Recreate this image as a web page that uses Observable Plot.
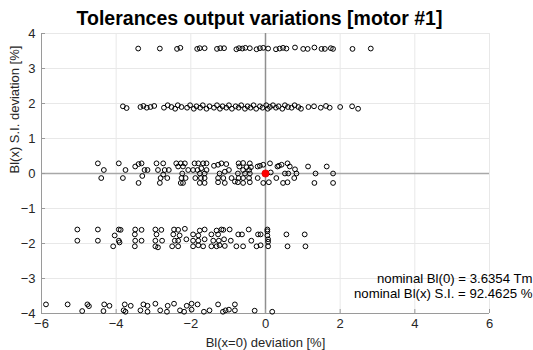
<!DOCTYPE html>
<html>
<head>
<meta charset="utf-8">
<script src="https://cdn.jsdelivr.net/npm/d3@7"></script>
<script src="https://cdn.jsdelivr.net/npm/@observablehq/plot@0.6"></script>
<style>
  html, body { margin: 0; padding: 0; background: #ffffff; }
  #chart { width: 533px; height: 350px; }
</style>
</head>
<body>
<div id="chart"></div>
<script>
// ---- Data ----
const titleText = "Tolerances output variations [motor #1]";
const xLabel = "Bl(x=0) deviation [%]";
const yLabel = "Bl(x) S.I. deviation [%]";
const noteLines = ["nominal Bl(0) = 3.6354 Tm", "nominal Bl(x) S.I. = 92.4625 %"];
const xTicks = [-6, -4, -2, 0, 2, 4, 6];
const yTicks = [-4, -3, -2, -1, 0, 1, 2, 3, 4];
const nominal = [[0, 0]];

// band near +3.5 %
const band1 = [
  [-3.41,3.57],[-2.83,3.57],[-2.37,3.56],[-2.28,3.59],[-1.83,3.56],[-1.76,3.58],[-1.63,3.58],
  [-1.30,3.56],[-1.21,3.58],[-1.11,3.58],[-0.78,3.55],[-0.71,3.58],[-0.62,3.57],[-0.54,3.59],[-0.42,3.58],
  [-0.24,3.55],[-0.15,3.58],[-0.06,3.59],[0.07,3.57],[0.28,3.55],[0.38,3.57],[0.47,3.59],[0.56,3.57],[0.79,3.60],
  [1.01,3.56],[1.13,3.56],[1.31,3.60],[1.50,3.56],[1.59,3.56],[1.75,3.58],[1.81,3.56],[2.33,3.56],[2.82,3.57]
];
// band near +1.9 %
const band2 = [
  [-3.82,1.92],[-3.72,1.87],[-3.35,1.90],[-3.27,1.93],[-3.18,1.88],[-3.08,1.90],[-2.98,1.93],
  [-2.72,1.88],[-2.62,1.95],[-2.52,1.90],[-2.42,1.85],[-2.35,1.95],[-2.25,1.90],
  [-2.10,1.88],[-2.02,1.95],[-1.92,1.85],[-1.85,1.92],[-1.75,1.88],[-1.68,1.95],[-1.58,1.85],[-1.50,1.92],
  [-1.38,1.88],[-1.30,1.95],[-1.22,1.85],[-1.15,1.92],[-1.05,1.88],[-0.98,1.95],[-0.90,1.85],
  [-0.80,1.92],[-0.72,1.88],[-0.65,1.95],[-0.55,1.85],[-0.48,1.92],[-0.40,1.88],[-0.32,1.95],[-0.25,1.85],[-0.15,1.92],[-0.08,1.88],
  [0.02,1.95],[0.06,1.85],[0.12,1.90],[0.20,1.95],[0.28,1.88],[0.35,1.92],[0.45,1.85],[0.52,1.95],[0.60,1.90],[0.70,1.88],[0.78,1.95],[0.88,1.90],[0.95,1.85],
  [1.15,1.90],[1.30,1.92],[1.48,1.88],[1.62,1.93],[1.72,1.88],[2.00,1.90],[2.32,1.92],[2.48,1.85]
];
// band near 0 %
const band3 = [
  [-4.49,0.29],[-4.33,0.10],[-4.40,-0.13],
  [-3.93,0.29],[-3.75,0.10],[-3.82,-0.13],
  [-3.49,0.20],[-3.40,0.27],[-3.32,0.29],[-3.24,0.10],[-3.16,0.10],[-3.30,-0.07],[-3.40,-0.27],
  [-2.92,0.29],[-2.74,0.29],[-2.88,0.10],[-2.70,0.10],[-2.59,0.10],[-2.74,-0.03],[-2.81,-0.13],[-2.63,-0.13],[-2.83,-0.27],
  [-2.39,0.29],[-2.27,0.29],[-2.16,0.29],[-2.34,0.20],[-2.21,0.20],[-2.07,0.10],[-2.23,0.00],[-2.25,-0.13],[-2.14,-0.13],[-2.27,-0.27],[-2.21,-0.27],
  [-1.90,0.29],[-1.80,0.29],[-1.67,0.29],[-1.58,0.29],[-1.94,0.10],[-1.82,0.10],[-1.72,0.15],[-1.58,0.10],[-1.76,0.00],[-1.63,0.00],
  [-1.88,-0.13],[-1.73,-0.13],[-1.63,-0.13],[-1.76,-0.27],[-1.63,-0.27],
  [-1.38,0.22],[-1.27,0.25],[-1.18,0.29],[-1.05,0.27],[-1.23,0.00],[-1.09,0.05],[-0.98,0.10],[-1.27,-0.13],[-1.13,-0.13],
  [-1.27,-0.25],[-1.09,-0.27],[-0.91,-0.13],[-0.82,-0.23],
  [-0.72,0.29],[-0.70,0.20],[-0.74,0.00],[-0.72,-0.13],[-0.74,-0.25],
  [-0.60,0.30],[-0.42,0.29],[-0.51,0.18],[-0.39,0.18],[-0.60,0.10],[-0.44,0.10],[-0.55,0.00],[-0.42,0.00],
  [-0.60,-0.13],[-0.44,-0.13],[-0.60,-0.27],[-0.42,-0.25],
  [-0.21,0.20],[-0.15,0.22],[-0.06,0.25],[-0.21,-0.13],[-0.06,-0.27],[0.09,-0.25],[0.12,0.29],[0.14,0.03],
  [0.32,0.20],[0.36,0.22],[0.43,0.25],[0.29,-0.13],[0.47,-0.27],[0.59,-0.25],[0.52,0.00],[0.61,0.00],[0.59,0.29],[0.65,0.20],
  [0.77,-0.13],[0.79,0.12],[0.83,0.00],
  [1.14,0.20],[1.34,0.00],[1.31,-0.27],[1.64,0.20],[1.81,0.00],[1.81,-0.27]
];
// band near -1.9 %
const band4 = [
  [-5.04,-1.60],[-5.04,-1.92],[-4.49,-1.60],[-4.49,-1.92],
  [-4.04,-1.77],[-3.93,-1.60],[-3.88,-1.61],[-3.93,-1.92],[-3.91,-1.97],[-4.08,-2.08],
  [-3.49,-1.60],[-3.32,-1.61],[-3.50,-1.74],[-3.49,-1.92],[-3.32,-1.92],[-3.50,-2.08],
  [-2.95,-1.60],[-2.79,-1.61],[-2.92,-1.74],[-2.95,-1.92],[-2.77,-1.92],[-2.95,-2.08],[-2.88,-2.11],
  [-2.45,-1.60],[-2.34,-1.61],[-2.16,-1.58],[-2.47,-1.74],[-2.30,-1.77],[-2.43,-1.92],[-2.34,-1.92],[-2.12,-1.88],[-2.50,-2.08],[-2.34,-2.08],
  [-1.94,-1.74],[-1.76,-1.63],[-1.63,-1.60],[-1.80,-1.77],[-1.94,-1.92],[-1.80,-1.92],[-1.63,-1.88],[-1.94,-2.08],[-1.80,-2.05],[-1.67,-2.08],
  [-1.45,-1.74],[-1.31,-1.63],[-1.18,-1.60],[-1.13,-1.61],[-1.27,-1.74],[-1.40,-1.92],[-1.25,-1.92],[-1.11,-1.88],
  [-1.45,-2.08],[-1.31,-2.08],[-1.23,-2.05],[-1.09,-2.07],
  [-0.96,-1.60],[-0.93,-1.92],[-0.78,-2.08],[-0.73,-1.74],[-0.63,-1.74],[-0.60,-2.08],
  [-0.45,-1.60],[-0.38,-1.92],[-0.20,-1.74],[-0.13,-1.74],[-0.24,-2.08],[-0.13,-2.05],
  [0.05,-1.60],[0.05,-1.65],[0.05,-1.77],[0.07,-1.88],[0.07,-1.95],[0.07,-2.08],
  [0.56,-1.74],[0.59,-2.08],[1.05,-1.74],[1.07,-2.08]
];
// band near -3.8 %
const band5 = [
  [-5.88,-3.74],[-5.30,-3.74],[-4.91,-3.93],[-4.77,-3.74],[-4.73,-3.79],
  [-4.34,-3.93],[-4.32,-3.74],[-4.18,-3.78],
  [-3.80,-3.91],[-3.75,-3.95],[-3.77,-3.74],[-3.61,-3.78],
  [-3.35,-3.91],[-3.27,-3.74],[-3.16,-3.78],[-3.16,-3.95],
  [-2.95,-3.72],[-2.82,-3.91],[-2.64,-3.95],[-2.62,-3.78],[-2.45,-3.72],
  [-2.29,-3.91],[-2.18,-3.95],[-2.11,-3.78],[-1.98,-3.72],[-1.98,-3.89],[-1.82,-3.74],
  [-1.65,-3.95],[-1.50,-3.91],[-1.27,-3.74],
  [-1.14,-3.95],[-1.07,-3.91],[-0.98,-3.89],[-0.82,-3.91],[-0.82,-3.74],
  [-0.29,-3.92],[0.18,-3.95]
];

const toRows = arr => arr.map(([x, y]) => ({x, y}));
const samples = [band1, band2, band3, band4, band5].flatMap(toRows);

const font = "'Liberation Sans', Arial, Helvetica, sans-serif";
const axisGray = "#9a9a9a";
const textColor = "#262626";

const chart = Plot.plot({
  width: 533,
  height: 350,
  marginLeft: 41,
  marginRight: 44,
  marginTop: 33,
  marginBottom: 37,
  style: {fontFamily: font, background: "#ffffff", color: textColor, overflow: "visible"},
  x: {domain: [-6, 6]},
  y: {domain: [-4, 4]},
  marks: [
    Plot.gridX(xTicks, {stroke: "#e8e8e8", strokeOpacity: 1}),
    Plot.gridY(yTicks, {stroke: "#e8e8e8", strokeOpacity: 1}),
    Plot.ruleX([0], {stroke: "#8f8f8f", strokeWidth: 1.5}),
    Plot.ruleY([0], {stroke: "#a8a8a8", strokeWidth: 1.5}),
    Plot.ruleX([xTicks[0]], {stroke: axisGray, strokeWidth: 1}),
    Plot.ruleY([yTicks[0]], {stroke: axisGray, strokeWidth: 1}),
    Plot.axisX(xTicks, {tickSize: -4, stroke: axisGray, text: null, label: null}),
    Plot.axisY(yTicks, {tickSize: -4, stroke: axisGray, text: null, label: null}),
    Plot.axisX(xTicks, {tickSize: 0, tickPadding: 5, fontSize: 13, fill: textColor, label: null}),
    Plot.axisY(yTicks, {tickSize: 0, tickPadding: 6, fontSize: 13, fill: textColor, label: null}),
    Plot.dot(samples, {x: "x", y: "y", r: 2.4, stroke: "#000000", strokeWidth: 1, fill: "none"}),
    Plot.dot(toRows(nominal), {x: "x", y: "y", r: 3.6, fill: "#ff0000", stroke: "#e00000", strokeWidth: 0.8}),
    Plot.text([titleText], {frameAnchor: "top", dy: -15, dx: -6, fontSize: 19.5, fontWeight: "bold", fill: "#000000", lineAnchor: "middle"}),
    Plot.text([xLabel], {frameAnchor: "bottom", dy: 29, fontSize: 13, fill: textColor, lineAnchor: "middle"}),
    Plot.text([yLabel], {frameAnchor: "left", dx: -27, rotate: -90, fontSize: 13, fill: textColor, lineAnchor: "middle"}),
    Plot.text([noteLines[0]], {frameAnchor: "bottom-right", dx: 43, dy: -35, textAnchor: "end", lineAnchor: "middle", fontSize: 13.2, fill: "#000000"}),
    Plot.text([noteLines[1]], {frameAnchor: "bottom-right", dx: 43, dy: -20, textAnchor: "end", lineAnchor: "middle", fontSize: 13.2, fill: "#000000"})
  ]
});
document.getElementById("chart").appendChild(chart);
</script>
</body>
</html>
